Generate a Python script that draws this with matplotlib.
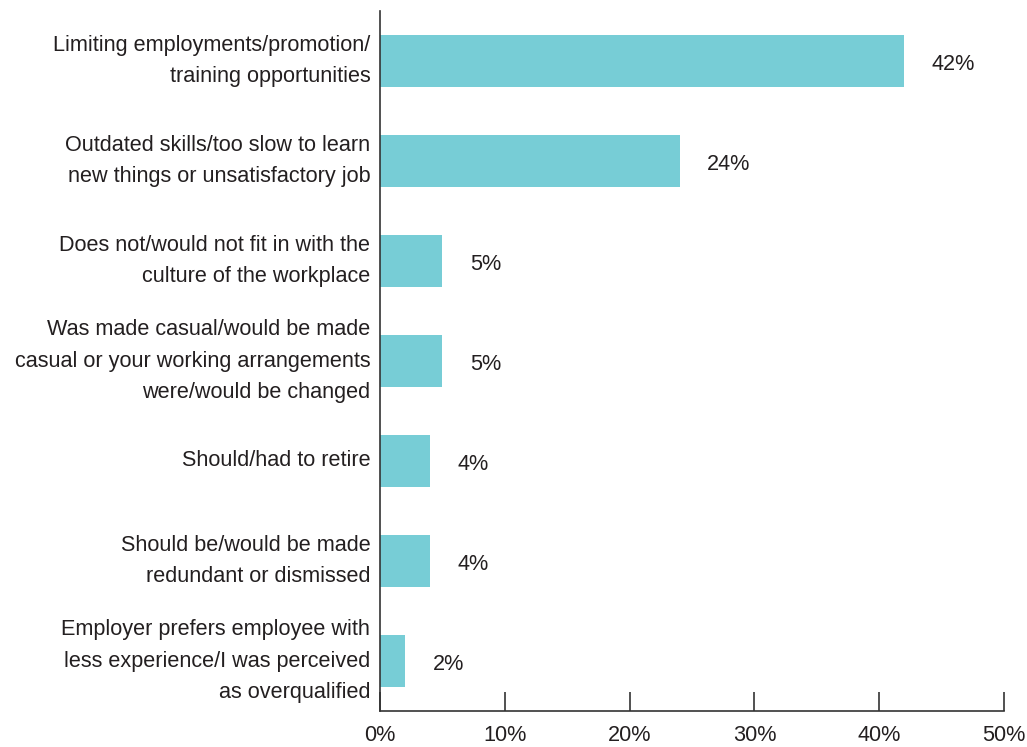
import matplotlib.pyplot as plt

categories = [
    "Limiting employments/promotion/\ntraining opportunities",
    "Outdated skills/too slow to learn\nnew things or unsatisfactory job",
    "Does not/would not fit in with the\nculture of the workplace",
    "Was made casual/would be made\ncasual or your working arrangements\nwere/would be changed",
    "Should/had to retire",
    "Should be/would be made\nredundant or dismissed",
    "Employer prefers employee with\nless experience/I was perceived\nas overqualified",
]
values = [42, 24, 5, 5, 4, 4, 2]
xticks = [0, 10, 20, 30, 40, 50]

plt.rcParams["font.family"] = ["Liberation Sans", "DejaVu Sans"]

text_col = "#231f20"
bar_col = "#77cdd6"
fs = 15.6

fig = plt.figure(figsize=(10.27, 7.47), dpi=100)
ax = fig.add_axes([380 / 1027, 36 / 747, 624 / 1027, 700 / 747])

ypos = list(range(len(categories)))
ax.barh(ypos, values, height=0.52, color=bar_col)
for y, v in zip(ypos, values):
    ax.text(v + 2.2, y + 0.04, f"{v}%", va="center", ha="left", fontsize=fs, color=text_col)

ax.set_xlim(0, 50)
ax.set_ylim(6.5, -0.5)
ax.set_yticks(ypos)
ax.set_yticklabels(categories, fontsize=fs, color=text_col, linespacing=1.68, va="center")
ax.set_xticks(xticks)
ax.set_xticklabels([f"{t}%" for t in xticks], fontsize=fs, color=text_col)
ax.tick_params(axis="y", length=0, pad=7)
ax.tick_params(axis="x", direction="in", length=14, width=1.2, color="#333333", pad=10)
for s in ["top", "right"]:
    ax.spines[s].set_visible(False)
for s in ["left", "bottom"]:
    ax.spines[s].set_linewidth(1.2)
    ax.spines[s].set_color("#333333")

fig.savefig("out.png", dpi=100)
